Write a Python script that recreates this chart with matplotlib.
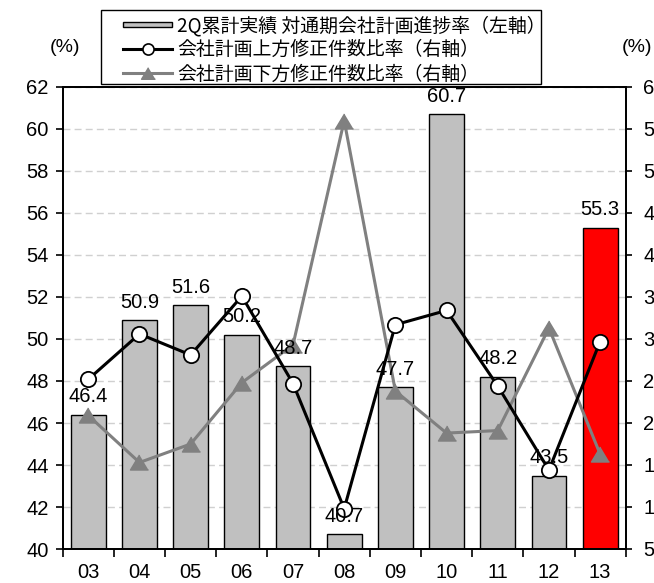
import matplotlib.pyplot as plt
import matplotlib.patches as mpatches
from matplotlib.lines import Line2D
from matplotlib.legend_handler import HandlerPatch

plt.rcParams['font.family'] = ['Liberation Sans', 'DejaVu Sans']

years = ['03', '04', '05', '06', '07', '08', '09', '10', '11', '12', '13']
progress = [46.4, 50.9, 51.6, 50.2, 48.7, 40.7, 47.7, 60.7, 48.2, 43.5, 55.3]
upward = [25.2, 30.6, 28.1, 35.1, 24.7, 9.8, 31.7, 33.4, 24.4, 14.4, 29.7]
downward = [20.9, 15.3, 17.5, 24.8, 29.3, 56.0, 23.8, 18.8, 19.1, 31.3, 16.3]

labels = ['2Q累計実績 対通期会社計画進捗率（左軸）',
          '会社計画上方修正件数比率（右軸）',
          '会社計画下方修正件数比率（右軸）']

jp_font = ['Noto Sans CJK JP', 'DejaVu Sans']
x = list(range(len(years)))
bar_colors = ['#c0c0c0'] * (len(years) - 1) + ['#ff0000']
W, H = 654, 583

fig = plt.figure(figsize=(W / 100, H / 100), dpi=100)
ax = fig.add_axes([62.7 / W, 34 / H, 563 / W, 462 / H])
ax2 = ax.twinx()

# bars on the left axis
ax.bar(x, progress, width=0.68, color=bar_colors, edgecolor='black',
       linewidth=1.0, zorder=2)
ax.set_ylim(40, 62)
ax.set_yticks(range(40, 63, 2))
ax.set_xlim(-0.5, len(years) - 0.5)
ax.yaxis.grid(True, color='#d0d0d0', linestyle=(0, (5, 3)), linewidth=1.0, zorder=0)
ax.set_axisbelow(True)

# category boundaries carry the tick marks, centres carry the labels
ax.set_xticks([i - 0.5 for i in range(len(years) + 1)])
ax.set_xticklabels([])
ax.set_xticks(x, minor=True)
ax.set_xticklabels(years, minor=True)
ax.tick_params(axis='x', which='major', direction='out', length=6, width=1.2)
ax.tick_params(axis='x', which='minor', length=0, pad=10, labelsize=14.5)
ax.tick_params(axis='y', direction='out', length=5, width=1.2, labelsize=14.5, pad=5)

# lines on the right axis
ax2.plot(x, upward, color='black', linewidth=2.2, marker='o', markersize=11,
         markerfacecolor='white', markeredgecolor='black', markeredgewidth=1.3,
         zorder=4)
tri = [(0, 1), (-1.2, -1), (1.2, -1)]
ax2.plot(x, downward, color='#808080', linewidth=2.2, marker=tri, markersize=13,
         markerfacecolor='#808080', markeredgecolor='#808080', zorder=3)
ax2.set_ylim(5, 60)
ax2.set_yticks(range(5, 61, 5))
ax2.tick_params(axis='y', direction='out', length=4.5, width=1.2, labelsize=14.5, pad=8)

for side in ['left', 'right', 'top', 'bottom']:
    ax.spines[side].set_linewidth(1.3)
    ax2.spines[side].set_linewidth(1.3)

# value labels above the bars
for xi, v in zip(x, progress):
    ax2.annotate(f'{v:.1f}', xy=(xi, v), xycoords=ax.transData,
                 xytext=(0, 6), textcoords='offset points',
                 ha='center', va='bottom', fontsize=14.5, zorder=6)

fig.text(65 / W, 1 - 47 / H, '(%)', ha='center', va='center', fontsize=14)
fig.text(637 / W, 1 - 47 / H, '(%)', ha='center', va='center', fontsize=14)


def flat_bar(legend, orig_handle, xdescent, ydescent, width, height, fontsize):
    h = height * 0.4
    return mpatches.Rectangle((-xdescent, -ydescent + (height - h) / 2), width, h)


handles = [
    mpatches.Patch(facecolor='#c0c0c0', edgecolor='black', linewidth=1.0),
    Line2D([], [], color='black', linewidth=2.2, marker='o', markersize=8,
           markerfacecolor='white', markeredgecolor='black', markeredgewidth=1.2),
    Line2D([], [], color='#808080', linewidth=2.2, marker=tri, markersize=10,
           markerfacecolor='#808080', markeredgecolor='#808080'),
]
# legend box drawn separately so the entries can sit inset from its edge
fig.patches.append(mpatches.Rectangle((101 / W, 1 - 84 / H), 440 / W, 74 / H,
                                      transform=fig.transFigure, facecolor='white',
                                      edgecolor='black', linewidth=1.0, zorder=9))
leg = fig.legend(handles, labels, loc='upper left',
                 bbox_to_anchor=(123 / W, 1 - 15 / H),
                 borderaxespad=0, borderpad=0, frameon=False,
                 prop={'family': jp_font, 'size': 13.6},
                 handlelength=2.6, handletextpad=0.28, labelspacing=0.17,
                 handler_map={mpatches.Patch: HandlerPatch(patch_func=flat_bar)})
leg.set_zorder(10)

fig.savefig('out.png', dpi=100)
